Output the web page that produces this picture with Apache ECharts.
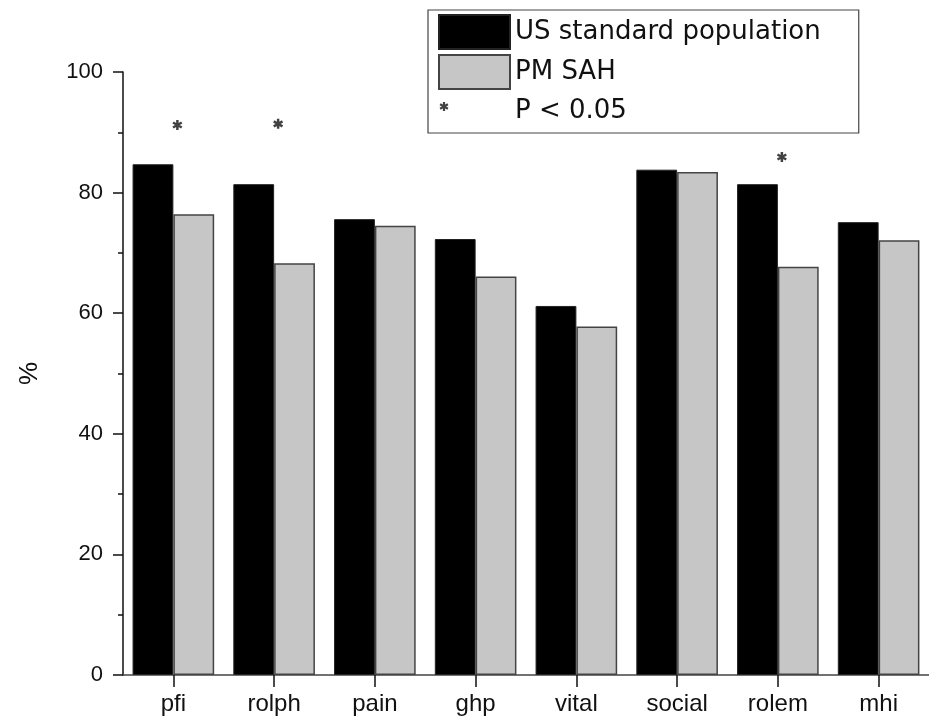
<!DOCTYPE html>
<html>
<head>
<meta charset="utf-8">
<script src="https://cdn.jsdelivr.net/npm/echarts@6/dist/echarts.min.js"></script>
<style>
html,body{margin:0;padding:0;background:#fff;}
#chart{width:929px;height:720px;}
</style>
</head>
<body>
<div id="chart"></div>
<script>
// ---- data ----
const categories = ['pfi', 'rolph', 'pain', 'ghp', 'vital', 'social', 'rolem', 'mhi'];
const usStandard = [84.7, 81.4, 75.6, 72.3, 61.2, 83.8, 81.4, 75.1];
const pmSAH = [76.4, 68.3, 74.5, 66.1, 57.8, 83.4, 67.7, 72.1];
// positions (values) of the significance asterisks; '-' = none
const sigMarks = [91.2, 91.4, '-', '-', '-', '-', 85.9, '-'];
const yTicks = [0, 20, 40, 60, 80, 100];
const seriesNames = ['US standard population', 'PM SAH', 'P < 0.05'];

const star = 'M3.9,0.5L6.1,0.5L6.1,9.5L3.9,9.5Z M1.653,1.797L9.447,6.297L8.347,8.203L0.553,3.703Z M9.447,3.703L1.653,8.203L0.553,6.297L8.347,1.797Z';
const legendStar = 'M0,0 M71,34 M3.9,8L6.1,8L6.1,17L3.9,17Z M1.653,9.297L9.447,13.797L8.347,15.703L0.553,11.203Z M9.447,11.203L1.653,15.703L0.553,13.797L8.347,9.297Z';

const chart = echarts.init(document.getElementById('chart'), null, {renderer: 'canvas'});
chart.setOption({
  animation: false,
  backgroundColor: '#fff',
  textStyle: {fontFamily: 'Liberation Sans', color: '#111'},
  legend: {
    orient: 'vertical',
    left: 428, top: 10,
    padding: [4, 38, 5, 10],
    itemWidth: 71, itemHeight: 34, itemGap: 4,
    borderColor: '#444', borderWidth: 1.2,
    textStyle: {fontFamily: 'DejaVu Sans', fontSize: 26, color: '#111'},
    data: [
      {name: seriesNames[0], icon: 'rect'},
      {name: seriesNames[1], icon: 'rect'},
      {name: seriesNames[2], icon: 'path://' + legendStar}
    ]
  },
  grid: {left: 123, right: -5, top: 72, bottom: 45, containLabel: false},
  xAxis: {
    type: 'category',
    data: categories,
    axisLine: {show: true, lineStyle: {color: '#444', width: 1.5}},
    axisTick: {show: true, alignWithLabel: true, interval: 0, length: 12, lineStyle: {color: '#111', width: 1.5}},
    axisLabel: {fontSize: 24, color: '#111', margin: 17, interval: 0, fontFamily: 'Liberation Sans'},
    splitLine: {show: false}
  },
  yAxis: {
    type: 'value',
    min: 0, max: 100, interval: 20,
    name: '%',
    nameLocation: 'middle',
    nameGap: 80,
    nameRotate: 90,
    nameTextStyle: {fontSize: 26, color: '#111', fontFamily: 'Liberation Sans'},
    axisLine: {show: true, lineStyle: {color: '#111', width: 1.5}},
    axisTick: {show: true, inside: false, length: 10, lineStyle: {color: '#111', width: 1.5}},
    minorTick: {show: true, splitNumber: 2, length: 5, lineStyle: {color: '#111', width: 1.5}},
    axisLabel: {fontSize: 22, color: '#111', margin: 20, fontFamily: 'Liberation Sans',
      formatter: v => (yTicks.indexOf(v) >= 0 ? String(v) : '')},
    splitLine: {show: false}
  },
  series: [
    {
      name: seriesNames[0], type: 'bar', data: usStandard,
      barGap: '0%', barCategoryGap: '19%',
      itemStyle: {color: '#000', borderColor: '#222', borderWidth: 1}
    },
    {
      name: seriesNames[1], type: 'bar', data: pmSAH,
      barGap: '0%', barCategoryGap: '19%',
      itemStyle: {color: '#c6c6c6', borderColor: '#444', borderWidth: 1.5}
    },
    {
      name: seriesNames[2], type: 'scatter', data: sigMarks,
      symbol: 'path://' + star, symbolSize: 10, symbolOffset: [4, 0],
      itemStyle: {color: '#111'}
    }
  ]
});
</script>
</body>
</html>
